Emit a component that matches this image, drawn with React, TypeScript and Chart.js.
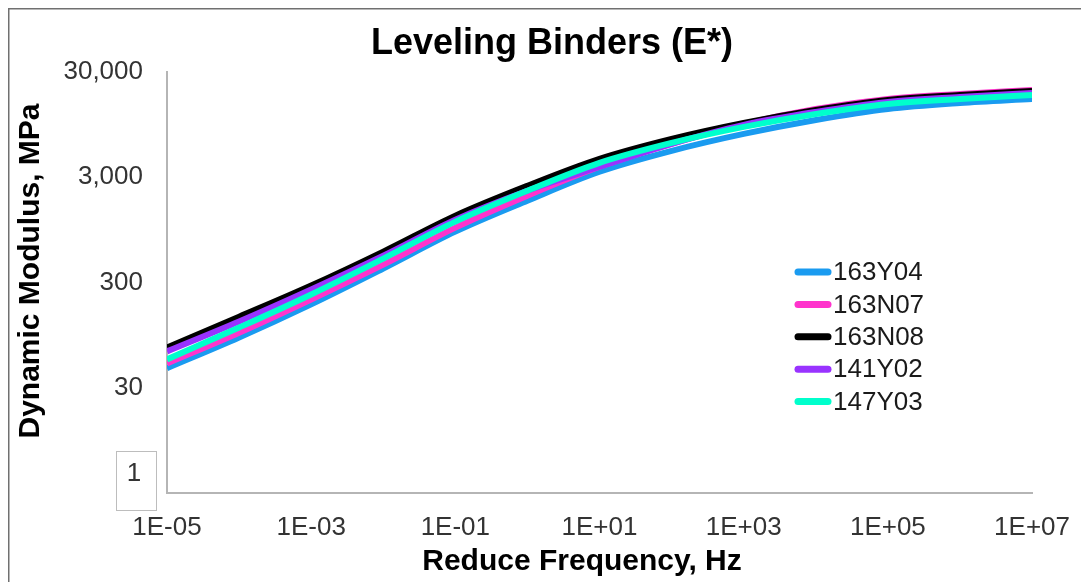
import React, { useEffect, useRef } from "react";
import { Chart, registerables } from "chart.js";

Chart.register(...registerables);

const FREQUENCIES = [1e-5, 1e-4, 1e-3, 1e-2, 1e-1, 1e0, 1e1, 1e2, 1e3, 1e4, 1e5, 1e6, 1e7];
const SERIES_NAMES = ["163Y04", "163N07", "163N08", "141Y02", "147Y03"];
const SERIES_COLORS = ["#1a9bf0", "#ff33cc", "#000000", "#9933ff", "#00ffcc"];
const S_163Y04 = [46, 90, 186, 407, 913, 1796, 3383, 5349, 7748, 10515, 13383, 15259, 16644];
const S_163N07 = [51, 100, 207, 444, 996, 2004, 3774, 6228, 9644, 13370, 16640, 18550, 20240];
const S_163N08 = [72.5, 142, 281, 590, 1295, 2491, 4491, 6947, 9852, 13081, 16278, 18154, 19802];
const S_141Y02 = [66.5, 128, 258, 540, 1187, 2234, 3774, 6228, 9436, 12530, 15590, 17390, 18970];
const S_147Y03 = [55.8, 112, 231, 506, 1136, 2234, 4116, 6368, 9030, 11990, 14920, 16640, 18150];
const SERIES_VALUES = [S_163Y04, S_163N07, S_163N08, S_141Y02, S_147Y03];
const X_TICKS = [1e-5, 1e-3, 1e-1, 1e1, 1e3, 1e5, 1e7];
const Y_TICKS = [3, 30, 300, 3000, 30000];

const TITLE = "Leveling Binders (E*)";
const X_TITLE = "Reduce Frequency, Hz";
const Y_TITLE = "Dynamic Modulus, MPa";
const FONT = "'Liberation Sans', Arial, sans-serif";

function fmtExp(v: number): string {
  const e = Math.round(Math.log10(v));
  const s = e < 0 ? "-" : "+";
  const a = Math.abs(e);
  return "1E" + s + (a < 10 ? "0" + a : String(a));
}

const decorPlugin = {
  id: "decor",
  afterDraw(chart: any) {
    const ctx = chart.ctx;
    ctx.save();
    // outer border (left/top)
    ctx.strokeStyle = "#707070";
    ctx.lineWidth = 1.5;
    ctx.beginPath();
    ctx.moveTo(0.75, chart.height);
    ctx.lineTo(0.75, 0.75);
    ctx.lineTo(chart.width, 0.75);
    ctx.stroke();

    // title
    ctx.fillStyle = "#000";
    ctx.font = "bold 36px " + FONT;
    ctx.textAlign = "center";
    ctx.textBaseline = "middle";
    ctx.fillText(TITLE, 544, 36);

    // x title
    ctx.font = "bold 30px " + FONT;
    ctx.fillText(X_TITLE, 574, 554);

    // y title
    ctx.save();
    ctx.translate(23, 263);
    ctx.rotate(-Math.PI / 2);
    ctx.fillText(Y_TITLE, 0, 0);
    ctx.restore();

    // box with "1"
    ctx.strokeStyle = "#bdbdbd";
    ctx.lineWidth = 1;
    ctx.strokeRect(108.5, 443.5, 40, 59);
    ctx.fillStyle = "#333";
    ctx.font = "26px " + FONT;
    ctx.fillText("1", 126, 466);

    // legend
    const lx0 = 787;
    const lx1 = 823;
    const ly0 = 264;
    const step = 32.4;
    ctx.textAlign = "left";
    ctx.font = "26px " + FONT;
    SERIES_NAMES.forEach((name, i) => {
      const y = ly0 + i * step;
      ctx.strokeStyle = SERIES_COLORS[i];
      ctx.lineWidth = 7;
      ctx.lineCap = "round";
      ctx.beginPath();
      ctx.moveTo(lx0 + 3, y);
      ctx.lineTo(lx1 - 3, y);
      ctx.stroke();
      ctx.fillStyle = "#1a1a1a";
      ctx.fillText(name, lx1 + 2, y + 1);
    });
    ctx.restore();
  },
};

export default function App() {
  const ref = useRef<HTMLCanvasElement | null>(null);
  useEffect(() => {
    if (!ref.current) return;
    const datasets = SERIES_NAMES.map((name, i) => ({
      label: name,
      data: FREQUENCIES.map((f, j) => ({ x: f, y: SERIES_VALUES[i][j] })),
      borderColor: SERIES_COLORS[i],
      backgroundColor: SERIES_COLORS[i],
      borderWidth: 6,
      pointRadius: 0,
      showLine: true,
      fill: false,
      cubicInterpolationMode: "monotone" as const,
      order: SERIES_NAMES.length - i,
    }));
    const chart = new Chart(ref.current, {
      type: "scatter",
      data: { datasets },
      options: {
        responsive: false,
        animation: false,
        devicePixelRatio: 1,
        layout: { padding: { left: 29, top: 64, right: 50, bottom: 34 } },
        plugins: { legend: { display: false }, tooltip: { enabled: false }, title: { display: false } },
        scales: {
          x: {
            type: "logarithmic",
            min: 1e-5,
            max: 1e7,
            afterBuildTicks: (s: any) => {
              s.ticks = X_TICKS.map((v) => ({ value: v }));
            },
            afterFit: (s: any) => {
              s.height = 55;
            },
            grid: { display: false, drawTicks: false },
            border: { display: true, color: "#b5b5b5", width: 2 },
            ticks: {
              autoSkip: false,
              maxRotation: 0,
              padding: 19,
              color: "#333",
              font: { family: FONT, size: 26 },
              callback: (v: any) => fmtExp(Number(v)),
            },
          },
          y: {
            type: "logarithmic",
            min: 3,
            max: 30000,
            afterBuildTicks: (s: any) => {
              s.ticks = Y_TICKS.map((v) => ({ value: v }));
            },
            afterFit: (s: any) => {
              s.width = 130;
            },
            grid: { display: false, drawTicks: false },
            border: { display: true, color: "#b5b5b5", width: 2 },
            ticks: {
              autoSkip: false,
              padding: 24,
              color: "#333",
              font: { family: FONT, size: 26 },
              callback: (v: any) => (Number(v) === 3 ? "" : Number(v).toLocaleString("en-US")),
            },
          },
        },
      },
      plugins: [decorPlugin],
    });
    return () => chart.destroy();
  }, []);
  return (
    <div style={{ width: 1081, height: 574 }}>
      <canvas ref={ref} width={1081} height={574} style={{ display: "block" }} />
    </div>
  );
}
